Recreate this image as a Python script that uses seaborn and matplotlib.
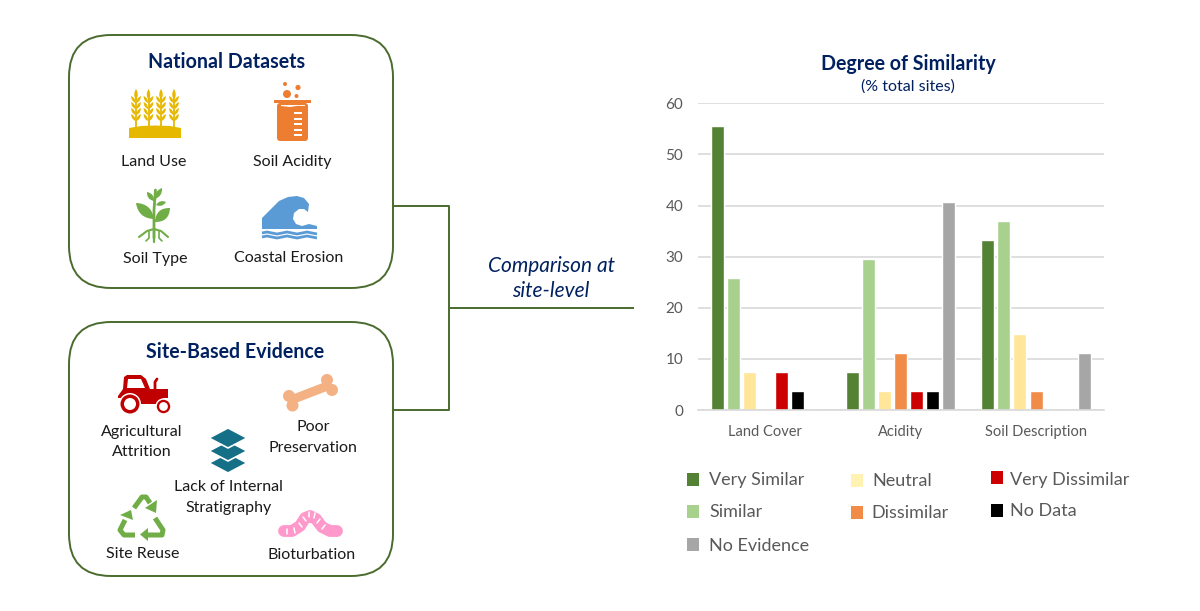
# Importing Libraries

import numpy as np
import pandas as pd
import matplotlib
matplotlib.use('Agg')
import matplotlib.pyplot as plt
import seaborn as sns
from matplotlib.patches import Circle, FancyBboxPatch, PathPatch, Polygon, Rectangle
from matplotlib.path import Path

# Chart data (% total sites)

categories = ['Land Cover', 'Acidity', 'Soil Description']
very_similar = [55.6, 7.4, 33.3]
similar = [25.9, 29.6, 37.0]
neutral = [7.4, 3.7, 14.8]
dissimilar = [0, 11.1, 3.7]
very_dissimilar = [7.4, 3.7, 0]
no_data = [3.7, 3.7, 0]
no_evidence = [0, 40.7, 11.1]

series_names = ['Very Similar', 'Similar', 'Neutral', 'Dissimilar',
                'Very Dissimilar', 'No Data', 'No Evidence']
series_colors = ['#548235', '#A9D18E', '#FFE699', '#F08C48',
                 '#CC0000', '#000000', '#A6A6A6']
y_ticks = [0, 10, 20, 30, 40, 50, 60]

NAVY = '#002060'
BOX_GREEN = '#4A6B2E'
TEXT = '#1A1A1A'
GREY = '#595959'

sns.set_theme(style='white')
plt.rcParams['font.family'] = ['Lato', 'DejaVu Sans']

W, H = 1200, 611
fig = plt.figure(figsize=(W / 100, H / 100), dpi=100, facecolor='white')

# Overlay in pixel coordinates for the diagram part
bg = fig.add_axes([0, 0, 1, 1])
bg.set_xlim(0, W)
bg.set_ylim(H, 0)
bg.axis('off')


def leaf(p0, p1, w, color):
    p0, p1 = np.array(p0, float), np.array(p1, float)
    mid = (p0 + p1) / 2
    d = p1 - p0
    n = np.array([-d[1], d[0]]) / np.hypot(*d) * w
    verts = [p0, mid + n, p1, mid - n, p0]
    codes = [Path.MOVETO, Path.CURVE3, Path.CURVE3, Path.CURVE3, Path.CURVE3]
    bg.add_patch(PathPatch(Path(verts, codes), fc=color, ec='none'))


def stroke(xs, ys, color, lw, cap='round'):
    bg.plot(xs, ys, color=color, lw=lw, solid_capstyle=cap, solid_joinstyle='round')


def draw_wheat():
    c = '#E6B800'
    for x in [136, 148.5, 161, 174]:
        stroke([x, x], [95, 127], c, 1.3)
        leaf((x, 89), (x, 100), 3.6, c)
        for y in [96, 102, 108, 114]:
            leaf((x - 0.5, y + 7), (x - 4.8, y), 2.8, c)
            leaf((x + 0.5, y + 7), (x + 4.8, y), 2.8, c)
    bg.add_patch(Polygon([(129, 138), (129, 128), (141, 126), (155, 125.5), (170, 126),
                          (181, 128), (181, 138)], fc=c, ec='none'))


def draw_beaker():
    c = '#ED7D31'
    bg.add_patch(FancyBboxPatch((277, 103), 31, 38, boxstyle='round,pad=0,rounding_size=3', fc=c, ec='none'))
    bg.add_patch(Rectangle((274, 100), 37, 3, fc=c, ec='none'))
    bg.add_patch(Polygon([(281, 106), (290, 107), (298, 105.8), (305, 106), (305, 105), (281, 105)], fc='white', ec='none'))
    for y in [112, 117.5, 123, 128.5, 134]:
        bg.add_patch(Rectangle((294, y), 8, 2.4, fc='white', ec='none'))
    for x, y, r in [(287, 94, 4), (298, 87.5, 2.6), (285, 84, 2), (296.5, 96, 2)]:
        bg.add_patch(Circle((x, y), r, fc=c, ec='none'))


def draw_plant():
    c = '#70AD47'
    stroke([155.5, 154, 154], [190, 210, 238], c, 2)
    leaf((136, 203), (154, 219), 10, c)
    leaf((170, 208), (155, 222), 10, c)
    leaf((147, 192), (154, 201), 5, c)
    leaf((162, 188), (155, 199), 5, c)
    leaf((166, 202), (156, 205), 4.5, c)
    stroke([154, 147, 139], [229, 231, 237], c, 1.5)
    stroke([154, 161, 168], [229, 231, 237], c, 1.5)
    stroke([154, 154], [229, 242], c, 1.6)
    stroke([149, 149, 146], [231, 238, 241], c, 1.2)
    stroke([159, 159, 162], [231, 238, 241], c, 1.2)


def draw_wave():
    c = '#5B9BD5'
    bg.add_patch(Polygon([(262, 229), (262, 218), (270, 210), (279, 201), (288, 197), (297, 196),
                          (304, 198), (309, 204), (308, 212), (304, 209), (299, 209), (294, 213),
                          (293, 219), (296, 224), (302, 226), (309, 224), (317, 226), (317, 229)],
                         fc=c, ec='none'))
    xs = [262, 267, 272, 277, 282, 287, 292, 297, 302, 307, 312, 317]
    ys = [233, 232, 233, 234, 233, 232, 233, 234, 233, 232, 233, 234]
    stroke(xs, ys, c, 2, 'butt')
    stroke(xs, [y + 4 for y in ys], c, 2, 'butt')


def draw_tractor():
    c = '#C00000'
    bg.add_patch(Polygon([(123, 389), (124, 377), (127, 375), (141, 375), (146, 379), (150, 389), (168, 389),
                          (168, 398), (118, 398), (118, 396)], fc=c, ec='none'))
    bg.add_patch(Polygon([(127, 388), (128, 379), (141, 379), (145, 388)], fc='white', ec='none'))
    stroke([155, 155, 157], [389, 382, 379], c, 2)
    bg.add_patch(Rectangle((130, 396), 33, 8, fc=c, ec='none'))
    for x, y, r, hole in [(130, 404, 9.5, 6), (163.5, 406.5, 6.7, 4.4)]:
        bg.add_patch(Circle((x, y), r + 1.5, fc='white', ec='none'))
        bg.add_patch(Circle((x, y), r, fc=c, ec='none'))
        bg.add_patch(Circle((x, y), hole, fc='white', ec='none'))


def draw_bone():
    c = '#F4B183'
    stroke([291, 330], [400, 385], c, 6.5, 'butt')
    for x, y in [(289, 396), (292.5, 405.5), (327, 380), (332, 390)]:
        bg.add_patch(Circle((x, y), 6, fc=c, ec='none'))


def draw_layers():
    c = '#156F86'
    for y in [463, 451, 438]:
        bg.add_patch(Polygon([(209, y), (228, y - 10), (247, y), (228, y + 10)],
                             fc=c, ec='white', lw=1.2))


def draw_recycle():
    c = '#70AD47'
    lw = 3.6
    stroke([134, 142, 146, 150], [508, 497, 497, 503], c, lw, 'butt')
    bg.add_patch(Polygon([(145, 508), (157, 500), (156, 513)], fc=c, ec='none'))
    stroke([155, 163, 162, 148], [518, 530, 535, 535], c, lw, 'butt')
    bg.add_patch(Polygon([(148, 528), (148, 541), (140, 534.5)], fc=c, ec='none'))
    stroke([135, 124, 120, 125], [535, 535, 530, 520], c, lw, 'butt')
    bg.add_patch(Polygon([(120, 515), (133, 520), (131, 510)], fc=c, ec='none'))


def draw_worm():
    c = '#FF99CC'
    xs = [284, 292, 300, 305, 310, 316, 322, 330, 337]
    ys = [531, 531, 526, 518, 516, 519, 527, 531, 531]
    bg.plot(xs, ys, color=c, lw=8.5, solid_capstyle='round', solid_joinstyle='round')
    for (x0, y0), (x1, y1) in [((287, 529), (287, 534)), ((294, 528), (295, 533)), ((299, 523), (302, 527)),
                               ((303, 517), (306, 521)), ((309, 512), (309, 517)), ((315, 513), (314, 518)),
                               ((320, 519), (317, 523)), ((325, 525), (322, 529))]:
        bg.plot([x0, x1], [y0, y1], color='white', lw=1.1)


# Rounded boxes and connector
for y0, y1 in [(35, 288), (322, 576)]:
    bg.add_patch(FancyBboxPatch((69, y0), 324, y1 - y0, boxstyle='round,pad=0,rounding_size=42',
                                fc='white', ec=BOX_GREEN, lw=1.4))
stroke([393, 449, 449, 393], [206, 206, 410, 410], BOX_GREEN, 1.4, 'butt')
stroke([449, 634], [308, 308], BOX_GREEN, 1.4, 'butt')

for draw in [draw_wheat, draw_beaker, draw_plant, draw_wave, draw_tractor,
             draw_bone, draw_layers, draw_recycle, draw_worm]:
    draw()

# Diagram text
bg.text(226.5, 62.5, 'National Datasets', color=NAVY, fontsize=14.1, fontweight='bold', ha='center', va='center')
bg.text(235, 351.5, 'Site-Based Evidence', color=NAVY, fontsize=14.1, fontweight='bold', ha='center', va='center')
diagram_labels = [(154, 161.5, 'Land Use'), (292, 162, 'Soil Acidity'), (155, 258.5, 'Soil Type'),
                  (288.5, 257.5, 'Coastal Erosion'), (142, 442, 'Agricultural\nAttrition'),
                  (313, 437.5, 'Poor\nPreservation'), (228.5, 497.5, 'Lack of Internal\nStratigraphy'),
                  (143, 554, 'Site Reuse'), (312, 555, 'Bioturbation')]
for x, y, label in diagram_labels:
    bg.text(x, y, label, color=TEXT, fontsize=11.5, ha='center', va='center', linespacing=1.58)
bg.text(551, 278.5, 'Comparison at\nsite-level', color=NAVY, fontsize=15, style='italic',
        ha='center', va='center', linespacing=1.34)

# Chart titles
bg.text(908, 64.5, 'Degree of Similarity', color=NAVY, fontsize=14.1, fontweight='bold', ha='center', va='center')
bg.text(908, 87, '(% total sites)', color=NAVY, fontsize=11.5, ha='center', va='center')

# Bar chart
series_values = [very_similar, similar, neutral, dissimilar, very_dissimilar, no_data, no_evidence]
rows = []
for name, values in zip(series_names, series_values):
    for cat, val in zip(categories, values):
        rows.append({'Site': cat, 'Similarity': name, 'Percent': val})
df = pd.DataFrame(rows)

ax = fig.add_axes([697.7 / W, 1 - 410 / H, 406 / W, 306.7 / H])
ax.patch.set_alpha(0)
sns.barplot(data=df, x='Site', y='Percent', hue='Similarity', hue_order=series_names,
            palette=series_colors, width=0.83, gap=0.19, saturation=1, legend=False, ax=ax)
ax.set_xlim(-0.5, 2.5)
ax.set_ylim(0, 60)
ax.set_yticks(y_ticks)
ax.set_xlabel('')
ax.set_ylabel('')
ax.set_axisbelow(True)
ax.grid(axis='y', color='#D9D9D9', lw=1.2)
sns.despine(ax=ax, left=True, top=True, right=True)
ax.spines['bottom'].set_color('#D9D9D9')
ax.spines['bottom'].set_linewidth(1.2)
ax.tick_params(axis='both', length=0, colors=GREY)
ax.tick_params(axis='x', pad=11, labelsize=10.5)
ax.tick_params(axis='y', pad=10.5, labelsize=11)

# Legend entries sit on an uneven grid, so they are placed one by one
legend_spots = {'Very Similar': (687, 473, 709, 480), 'Similar': (687, 505, 709, 512),
                'No Evidence': (687, 538, 709, 546), 'Neutral': (851, 474, 872, 481),
                'Dissimilar': (851, 506, 871, 513), 'Very Dissimilar': (991, 471, 1010, 480),
                'No Data': (991, 504, 1010, 511)}
for name, color in zip(series_names, series_colors):
    sx, sy, tx, ty = legend_spots[name]
    face = '#FFF2B3' if name == 'Neutral' else color
    bg.add_patch(Rectangle((sx, sy), 12, 12.5, fc=face, ec='none'))
    bg.text(tx, ty, name, color=GREY, fontsize=13, ha='left', va='center')

fig.savefig('out.png', dpi=100)
plt.close(fig)
